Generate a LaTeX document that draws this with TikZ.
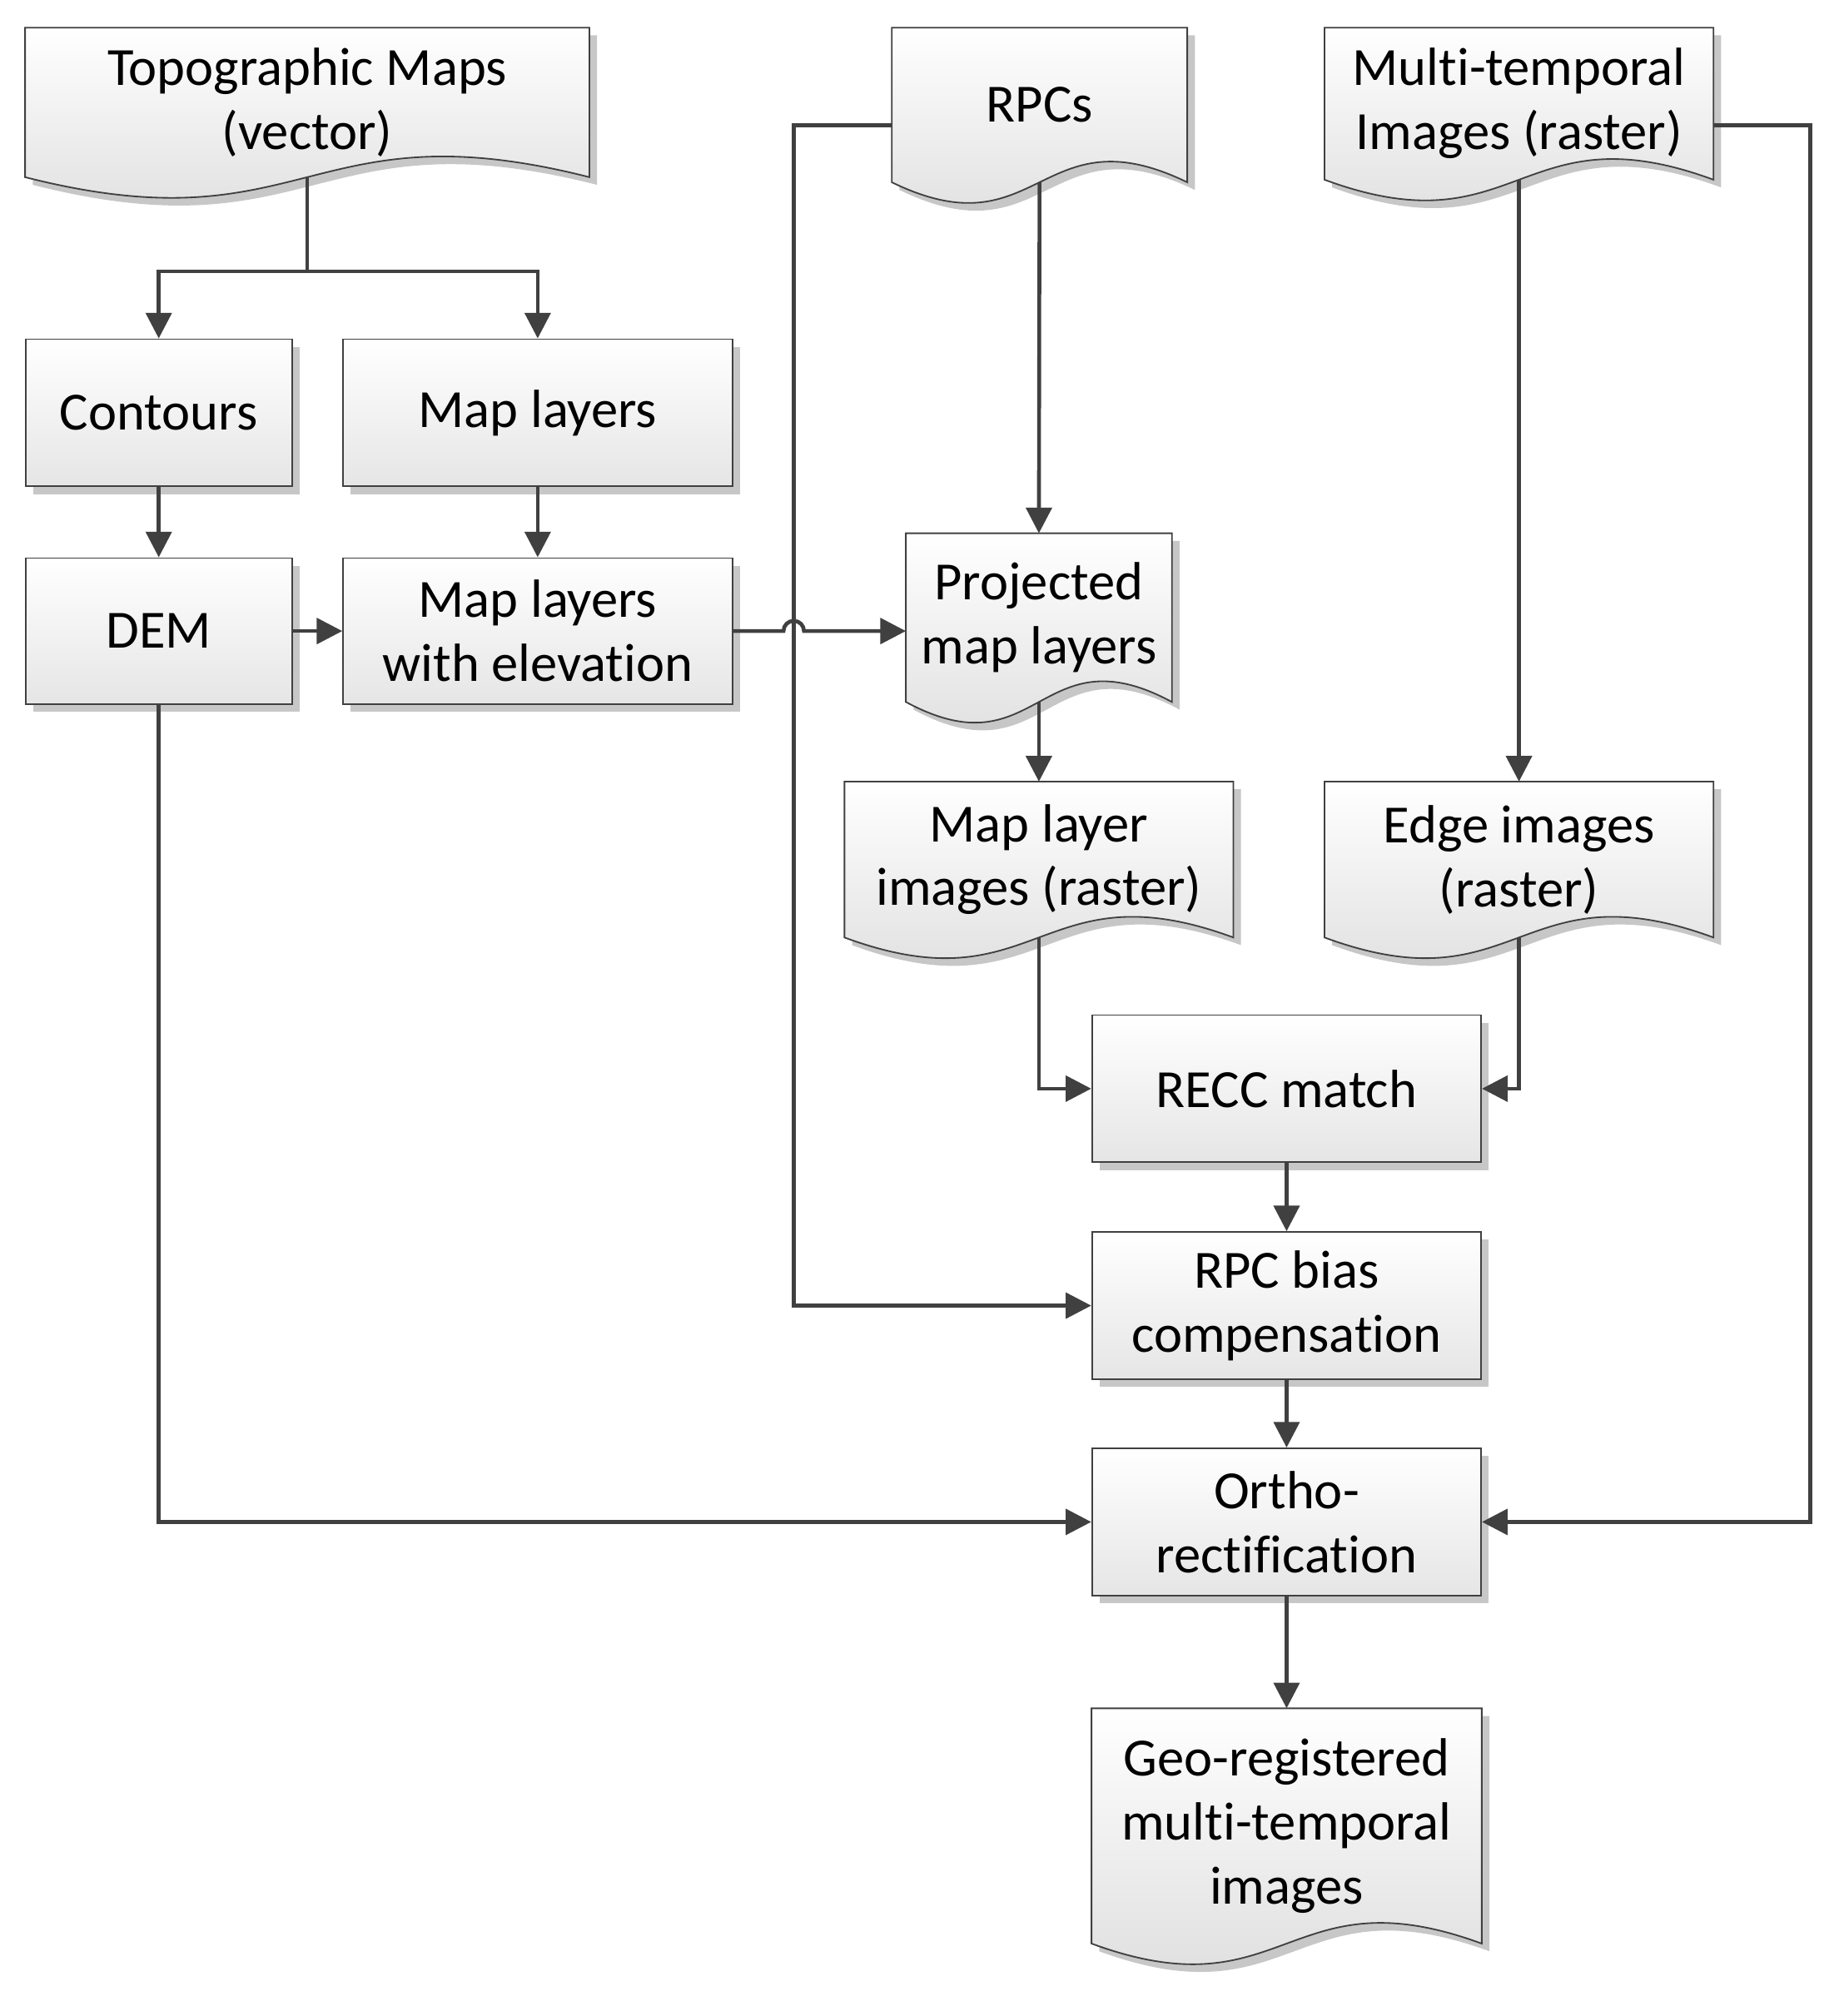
\documentclass[tikz,border=0pt]{standalone}
\usepackage{fontspec}
\setmainfont{Carlito}[Ligatures=NoCommon]
\usetikzlibrary{arrows.meta,shadows,calc}
\begin{document}
\begin{tikzpicture}[x=0.5pt,y=-0.5pt,
  font=\fontsize{21}{25}\selectfont,
  ln/.style={draw=black!75,line width=1.5pt},
  arr/.style={ln,-{Triangle[length=10pt,width=10pt]}},
  box/.style={draw=black!75,line width=0.6pt,top color=white,bottom color=black!10,align=center,inner sep=0pt,
     drop shadow={shadow xshift=3pt,shadow yshift=-3pt,fill=black!22,opacity=1}},
  doc/.style={draw=none,align=center,inner sep=0pt}]
\useasboundingbox (0,0) rectangle (1440,1575);
\newcommand\docsh[1]{%
 \fill[black!22] let \p1=(#1.north west),\p2=(#1.south east),\n1={(\x1+\x2)/2} in
   (\x1+3pt,\y1-3pt) -- (\x2+3pt,\y1-3pt) -- (\x2+3pt,\y2-3pt) .. controls (\n1+3pt,\y2+25pt) and (\n1+3pt,\y2-31pt) .. (\x1+3pt,\y2-3pt) -- cycle;
 \path[draw=black!75,line width=0.6pt,top color=white,bottom color=black!14] let \p1=(#1.north west),\p2=(#1.south east),\n1={(\x1+\x2)/2} in
   (\x1,\y1) -- (\x2,\y1) -- (\x2,\y2) .. controls (\n1,\y2+28pt) and (\n1,\y2-28pt) .. (\x1,\y2) -- cycle;}
% documents
\node[doc,minimum width=220pt,minimum height=58pt] (topo) at (240,80) {};
\node[doc,minimum width=115pt,minimum height=60pt] (rpcs) at (812,82) {};
\node[doc,minimum width=151.5pt,minimum height=59pt] (multi) at (1186.5,81) {};
\node[doc,minimum width=103.5pt,minimum height=65.5pt] (proj) at (811.5,482.5) {};
\node[doc,minimum width=151.5pt,minimum height=60.5pt] (mli) at (811.5,671.5) {};
\node[doc,minimum width=151.5pt,minimum height=60.5pt] (edge) at (1186.5,671.5) {};
\node[doc,minimum width=152pt,minimum height=91.5pt] (geo) at (1005,1426.5) {};
\docsh{topo}\docsh{rpcs}\docsh{multi}\docsh{proj}\docsh{mli}\docsh{edge}\docsh{geo}
\node[align=center] at (topo) {Topographic Maps\\(vector)};
\node[align=center] at (rpcs) {RPCs};
\node[align=center] at (multi) {Multi-temporal\\Images (raster)};
\node[align=center] at (proj) {Projected\\map layers};
\node[align=center] at (mli) {Map layer\\images (raster)};
\node[align=center] at (edge) {Edge images\\(raster)};
\node[align=center] at (geo) {Geo-registered\\multi-temporal\\images};
% boxes
\node[box,minimum width=104pt,minimum height=57.5pt] (cont) at (124,322.5) {Contours};
\node[box,minimum width=152pt,minimum height=57.5pt] (ml) at (420,322.5) {Map layers};
\node[box,minimum width=104pt,minimum height=57pt] (dem) at (124,493) {DEM};
\node[box,minimum width=152pt,minimum height=57pt] (mle) at (420,493) {Map layers\\with elevation};
\node[box,minimum width=152pt,minimum height=57.5pt] (recc) at (1005,850.5) {RECC match};
\node[box,minimum width=152pt,minimum height=57.5pt] (rpcb) at (1005,1020) {RPC bias\\compensation};
\node[box,minimum width=152pt,minimum height=57.5pt] (ortho) at (1005,1189) {Ortho-\\rectification};
% coordinates
\coordinate (split) at (240,212);
\coordinate (rpcl) at (697,98);
\coordinate (mtr) at (1338,98);
\coordinate (j) at (612,493);
% connectors
\draw[ln] (topo.south) -- (split);
\draw[arr] (split) -| (cont.north);
\draw[arr] (split) -| (ml.north);
\draw[arr] (cont) -- (dem);
\draw[arr] (ml) -- (mle);
\draw[arr] (dem) -- (mle);
\draw[arr] (mle.east) -- (j) arc[start angle=180,end angle=0,radius=4pt] -- (proj.west |- j);
\draw[arr] (rpcl) -- ++(-77,0) |- (rpcb.west);
\draw[arr] (rpcs.south) -- (proj.north);
\draw[arr] (proj.south) -- (mli.north);
\draw[arr] (mli.south) |- (recc.west);
\draw[arr] (edge.south) |- (recc.east);
\draw[arr] (recc) -- (rpcb);
\draw[arr] (rpcb) -- (ortho);
\draw[arr] (ortho) -- (geo);
\draw[arr] (multi.south) -- (edge.north);
\draw[arr] (mtr) -- ++(76,0) |- (ortho.east);
\draw[arr] (dem.south) |- (ortho.west);
\end{tikzpicture}
\end{document}
